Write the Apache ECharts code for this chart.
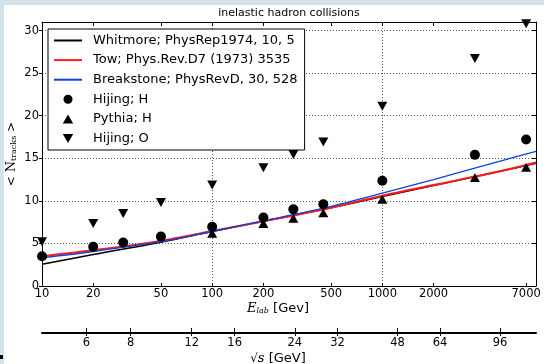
<!DOCTYPE html>
<html>
<head>
<meta charset="utf-8">
<script src="https://cdn.jsdelivr.net/npm/echarts@6/dist/echarts.min.js"></script>
<style>
  html, body { margin: 0; padding: 0; background: #d6e2e9; }
  #chart { width: 544px; height: 364px; }
</style>
</head>
<body>
<div id="chart"></div>
<script>
// Energy range of the lab-frame axis (GeV) and proton mass for the sqrt(s) scale
const E_MIN = 10;
const E_MAX = 8000;
const PROTON_MASS = 0.938;

// Parameterisations of the mean multiplicity
const curveEnergies = [10, 20, 50, 100, 200, 500, 1000, 2000, 5000, 8000];
const whitmore   = [2.55, 3.7, 5.15, 6.4, 7.6, 9.2, 10.5, 11.8, 13.5, 14.4];
const tow        = [3.5, 4.2, 5.3, 6.45, 7.6, 9.2, 10.6, 11.85, 13.5, 14.5];
const breakstone = [3.3, 4.05, 5.2, 6.4, 7.65, 9.35, 10.9, 12.5, 14.7, 15.8];

// Generator results
const hijingHEnergies = [10, 20, 30, 50, 100, 200, 300, 450, 1000, 3500, 7000];
const hijingH         = [3.5, 4.6, 5.1, 5.8, 6.95, 8.05, 9.0, 9.6, 12.35, 15.4, 17.2];
const pythiaHEnergies = [100, 200, 300, 450, 1000, 3500, 7000];
const pythiaH         = [6.2, 7.35, 7.95, 8.6, 10.2, 12.75, 13.95];
const hijingOEnergies = [10, 20, 30, 50, 100, 200, 300, 450, 1000, 3500, 7000];
const hijingO         = [5.2, 7.35, 8.5, 9.8, 11.85, 13.9, 15.45, 16.9, 21.1, 26.7, 30.8];

// Tick labels
const eLabTicks  = [10, 20, 50, 100, 200, 500, 1000, 2000, 7000];
const sqrtSTicks = [6, 8, 12, 16, 24, 32, 48, 64, 96];
const Y_MIN = 0, Y_MAX = 31, Y_STEP = 5;

const zip = (xs, ys) => xs.map((x, i) => [x, ys[i]]);
// fixed-target kinematics: s = 2 m^2 + 2 m E
const energyFromSqrtS = r => (r * r - 2 * PROTON_MASS * PROTON_MASS) / (2 * PROTON_MASS);
const sqrtSFromEnergy = e => Math.sqrt(2 * PROTON_MASS * PROTON_MASS + 2 * PROTON_MASS * e);

const logMin = Math.log10(E_MIN), logMax = Math.log10(E_MAX);
const eLabLogTicks = eLabTicks.map(Math.log10);
const sqrtSLogTicks = sqrtSTicks.map(r => Math.log10(energyFromSqrtS(r)));

const SANS = 'DejaVu Sans';
const SERIF = 'DejaVu Serif';
const dotted = { color: '#555', width: 1, type: [1, 2] };
const TRIANGLE_UP = 'path://M1,0L2,1.732L0,1.732Z';
const TRIANGLE_DOWN = 'path://M0,0L2,0L1,1.732Z';
const lineOnly = { itemStyle: { opacity: 0, borderWidth: 0 } };

const chart = echarts.init(document.getElementById('chart'));
chart.setOption({
  backgroundColor: '#d6e2e9',
  animation: false,
  textStyle: { fontFamily: SANS, color: '#000' },
  graphic: [
    { type: 'rect', left: 4, top: 5, shape: { width: 540, height: 359 }, style: { fill: '#fff' }, z: -10 },
    { type: 'rect', left: 0, top: 355, shape: { width: 3, height: 4 }, style: { fill: '#000' }, z: -9 }
  ],
  title: {
    text: 'inelastic hadron collisions',
    left: 289, top: 8, textAlign: 'center', padding: 0,
    textStyle: { fontFamily: SANS, fontSize: 11, fontWeight: 'normal', color: '#000' }
  },
  legend: {
    orient: 'vertical', left: 48, top: 29,
    backgroundColor: '#fff', borderColor: '#000', borderWidth: 1, borderRadius: 0,
    padding: [5, 7, 5, 5],
    itemWidth: 28, itemHeight: 9, itemGap: 6.6,
    textStyle: { fontFamily: SANS, fontSize: 13, color: '#000', padding: [0, 0, 0, 6] },
    data: [
      Object.assign({ name: 'Whitmore; PhysRep1974, 10, 5' }, lineOnly),
      Object.assign({ name: 'Tow; Phys.Rev.D7 (1973) 3535' }, lineOnly),
      Object.assign({ name: 'Breakstone; PhysRevD, 30, 528' }, lineOnly),
      { name: 'Hijing; H', icon: 'circle' },
      { name: 'Pythia; H', icon: TRIANGLE_UP },
      { name: 'Hijing; O', icon: TRIANGLE_DOWN }
    ]
  },
  grid: { left: 42, right: 8, top: 22, bottom: 78, containLabel: false, outerBoundsMode: 'none' },
  xAxis: [
    { // data axis (log energy)
      type: 'log', logBase: 10, min: E_MIN, max: E_MAX, position: 'bottom',
      axisLine: { show: true, lineStyle: { color: '#000', width: 1 } },
      axisTick: { show: false }, axisLabel: { show: false },
      splitLine: { show: true, lineStyle: dotted }, minorTick: { show: false }, minorSplitLine: { show: false }
    },
    { // E_lab tick labels
      type: 'value', min: logMin, max: logMax, position: 'bottom',
      axisLine: { show: false },
      axisTick: { show: true, inside: true, length: 3, customValues: eLabLogTicks, lineStyle: { color: '#000' } },
      axisLabel: {
        show: true, customValues: eLabLogTicks, margin: 2,
        fontFamily: SANS, fontSize: 11.5, color: '#000',
        formatter: v => String(Math.round(Math.pow(10, v)))
      },
      splitLine: { show: false },
      name: '{e|E}{sub|lab}{t| [Gev]}', nameLocation: 'middle', nameGap: 16, nameMoveOverlap: false,
      nameTextStyle: {
        rich: {
          e: { fontFamily: SERIF, fontStyle: 'italic', fontSize: 13, color: '#000' },
          sub: { fontFamily: SERIF, fontStyle: 'italic', fontSize: 8, color: '#000', padding: [0, 0, -4, 0] },
          t: { fontFamily: SANS, fontSize: 13, color: '#000', padding: [0, 22, 0, 0] }
        }
      }
    },
    { // mirrored ticks on the top frame
      type: 'value', min: logMin, max: logMax, position: 'top',
      axisLine: { show: true, lineStyle: { color: '#000', width: 1 } },
      axisTick: { show: true, inside: true, length: 4, customValues: eLabLogTicks, lineStyle: { color: '#000' } },
      axisLabel: { show: false }, splitLine: { show: false }
    },
    { // sqrt(s) scale
      type: 'value', min: logMin, max: logMax, position: 'bottom', offset: 47,
      axisLine: { show: true, lineStyle: { color: '#000', width: 2 } },
      axisTick: { show: true, inside: true, length: 5, customValues: sqrtSLogTicks, lineStyle: { color: '#000' } },
      axisLabel: {
        show: true, customValues: sqrtSLogTicks, margin: 4,
        fontFamily: SANS, fontSize: 11.5, color: '#000',
        formatter: v => String(Math.round(sqrtSFromEnergy(Math.pow(10, v))))
      },
      splitLine: { show: false },
      name: '{r|√}{s|s}{t| [GeV]}', nameLocation: 'middle', nameGap: 19, nameMoveOverlap: false,
      nameTextStyle: {
        rich: {
          r: { fontFamily: SANS, fontSize: 12, color: '#000' },
          s: { fontFamily: SERIF, fontStyle: 'italic', fontSize: 13, color: '#000' },
          t: { fontFamily: SANS, fontSize: 13, color: '#000', padding: [0, 22, 0, 0] }
        }
      }
    },
    { // lower half of the sqrt(s) ticks
      type: 'value', min: logMin, max: logMax, position: 'bottom', offset: 47,
      axisLine: { show: false },
      axisTick: { show: true, inside: false, length: 3, customValues: sqrtSLogTicks, lineStyle: { color: '#000' } },
      axisLabel: { show: false }, splitLine: { show: false }
    }
  ],
  yAxis: [
    {
      type: 'value', min: Y_MIN, max: Y_MAX, interval: Y_STEP, position: 'left',
      axisLine: { show: true, lineStyle: { color: '#000', width: 1 } },
      axisTick: { show: true, inside: false, length: 3, lineStyle: { color: '#000' } },
      axisLabel: { margin: 3, fontFamily: SANS, fontSize: 11.5, color: '#000', showMaxLabel: false },
      splitLine: { show: true, lineStyle: dotted },
      name: '{a|< }{n|N}{sub|tracks}{a| >}', nameLocation: 'middle', nameGap: 24, nameMoveOverlap: false,
      nameTextStyle: {
        rich: {
          a: { fontFamily: SANS, fontSize: 12, color: '#000' },
          n: { fontFamily: SERIF, fontSize: 13, color: '#000' },
          sub: { fontFamily: SERIF, fontSize: 8, color: '#000', padding: [0, 0, -4, 0] }
        }
      }
    },
    {
      type: 'value', min: Y_MIN, max: Y_MAX, interval: Y_STEP, position: 'right',
      axisLine: { show: true, lineStyle: { color: '#000', width: 1 } },
      axisTick: { show: true, inside: true, length: 4, lineStyle: { color: '#000' } },
      axisLabel: { show: false }, splitLine: { show: false }
    }
  ],
  series: [
    {
      name: 'Whitmore; PhysRep1974, 10, 5', type: 'line', xAxisIndex: 0, yAxisIndex: 0,
      data: zip(curveEnergies, whitmore), smooth: 0.3, symbol: 'none',
      lineStyle: { color: '#000', width: 1.5 }, itemStyle: { color: '#000' }, z: 3
    },
    {
      name: 'Tow; Phys.Rev.D7 (1973) 3535', type: 'line', xAxisIndex: 0, yAxisIndex: 0,
      data: zip(curveEnergies, tow), smooth: 0.3, symbol: 'none',
      lineStyle: { color: '#ff1a1a', width: 2 }, itemStyle: { color: '#ff1a1a' }, z: 4
    },
    {
      name: 'Breakstone; PhysRevD, 30, 528', type: 'line', xAxisIndex: 0, yAxisIndex: 0,
      data: zip(curveEnergies, breakstone), smooth: 0.3, symbol: 'none',
      lineStyle: { color: '#1040e0', width: 1.3 }, itemStyle: { color: '#1040e0' }, z: 5
    },
    {
      name: 'Hijing; H', type: 'scatter', xAxisIndex: 0, yAxisIndex: 0,
      data: zip(hijingHEnergies, hijingH), symbol: 'circle', symbolSize: 10,
      itemStyle: { color: '#000', opacity: 1 }, z: 6
    },
    {
      name: 'Pythia; H', type: 'scatter', xAxisIndex: 0, yAxisIndex: 0,
      data: zip(pythiaHEnergies, pythiaH), symbol: TRIANGLE_UP, symbolSize: [10, 9],
      itemStyle: { color: '#000', opacity: 1 }, z: 6
    },
    {
      name: 'Hijing; O', type: 'scatter', xAxisIndex: 0, yAxisIndex: 0,
      data: zip(hijingOEnergies, hijingO), symbol: TRIANGLE_DOWN, symbolSize: [10, 9],
      itemStyle: { color: '#000', opacity: 1 }, z: 6
    }
  ]
});
</script>
</body>
</html>
